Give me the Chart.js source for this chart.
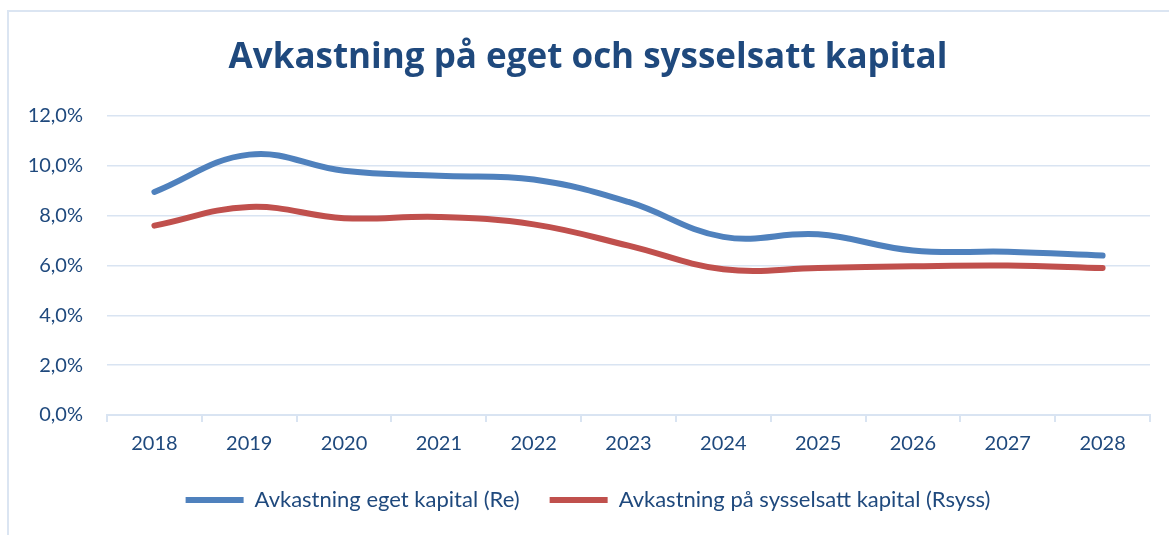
<!DOCTYPE html>
<html lang="sv">
<head>
<meta charset="utf-8">
<title>Avkastning på eget och sysselsatt kapital</title>
<script src="https://cdn.jsdelivr.net/npm/chart.js@4.4.1/dist/chart.umd.min.js"></script>
<style>
  html, body { margin: 0; padding: 0; background: #fff; overflow: hidden; }
  #ram {
    position: absolute; left: 7px; top: 10px; width: 1200px; height: 560px;
    border-left: 2px solid #dbe5f2; border-top: 2px solid #dbe5f2;
  }
  #graf { position: absolute; left: 0; top: 0; }
</style>
</head>
<body>
<div id="ram"></div>
<canvas id="graf" width="1169" height="535"></canvas>
<script>
// Data (procent)
const ar = ['2018', '2019', '2020', '2021', '2022', '2023', '2024', '2025', '2026', '2027', '2028'];
const egetKapital = [8.95, 10.45, 9.8, 9.6, 9.45, 8.55, 7.15, 7.25, 6.6, 6.55, 6.4];
const sysselsattKapital = [7.6, 8.35, 7.9, 7.95, 7.65, 6.8, 5.85, 5.9, 5.97, 6.0, 5.9];
const yTicks = [0, 2, 4, 6, 8, 10, 12];

const morkBla = '#1f497d';
const rutnat = '#d9e4f2';

const ctx = document.getElementById('graf').getContext('2d');

new Chart(ctx, {
  type: 'line',
  data: {
    labels: ar,
    datasets: [{
      label: 'Avkastning eget kapital (Re)',
      data: egetKapital,
      borderColor: '#4f81bd',
      backgroundColor: '#4f81bd',
      borderWidth: 6,
      borderCapStyle: 'round',
      pointRadius: 0,
      tension: 0.4
    }, {
      label: 'Avkastning på sysselsatt kapital (Rsyss)',
      data: sysselsattKapital,
      borderColor: '#c0504d',
      backgroundColor: '#c0504d',
      borderWidth: 6,
      borderCapStyle: 'round',
      pointRadius: 0,
      tension: 0.4
    }]
  },
  options: {
    responsive: false,
    animation: false,
    layout: { padding: { left: 26, right: 19, top: 0, bottom: 14 } },
    plugins: {
      title: {
        display: true,
        text: 'Avkastning på eget och sysselsatt kapital',
        color: morkBla,
        font: { family: 'Open Sans', size: 35, weight: 'bold', lineHeight: 1.2 },
        padding: { top: 37, bottom: 37 }
      },
      legend: {
        position: 'bottom',
        labels: {
          color: morkBla,
          font: { family: 'Lato', size: 22 },
          usePointStyle: true,
          pointStyle: 'line',
          pointStyleWidth: 58,
          padding: 30
        }
      },
      tooltip: { enabled: false }
    },
    scales: {
      x: {
        offset: true,
        grid: {
          offset: true,
          drawOnChartArea: false,
          drawTicks: true,
          tickLength: 7,
          color: rutnat,
          lineWidth: 2
        },
        border: { color: rutnat, width: 2 },
        ticks: {
          color: morkBla,
          font: { family: 'Lato', size: 20 },
          padding: 10,
          maxRotation: 0
        },
        afterFit: function(scale) { scale.height = 44; }
      },
      y: {
        min: 0,
        max: 12,
        afterBuildTicks: function(scale) {
          scale.ticks = yTicks.map(v => ({ value: v }));
        },
        grid: { color: rutnat, lineWidth: 1.5, drawTicks: false },
        border: { display: false },
        ticks: {
          color: morkBla,
          font: { family: 'Lato', size: 20 },
          padding: 24,
          callback: function(value) {
            return value.toFixed(1).replace('.', ',') + '%';
          }
        },
        afterFit: function(scale) { scale.width = 81; }
      }
    }
  }
});
</script>
</body>
</html>
